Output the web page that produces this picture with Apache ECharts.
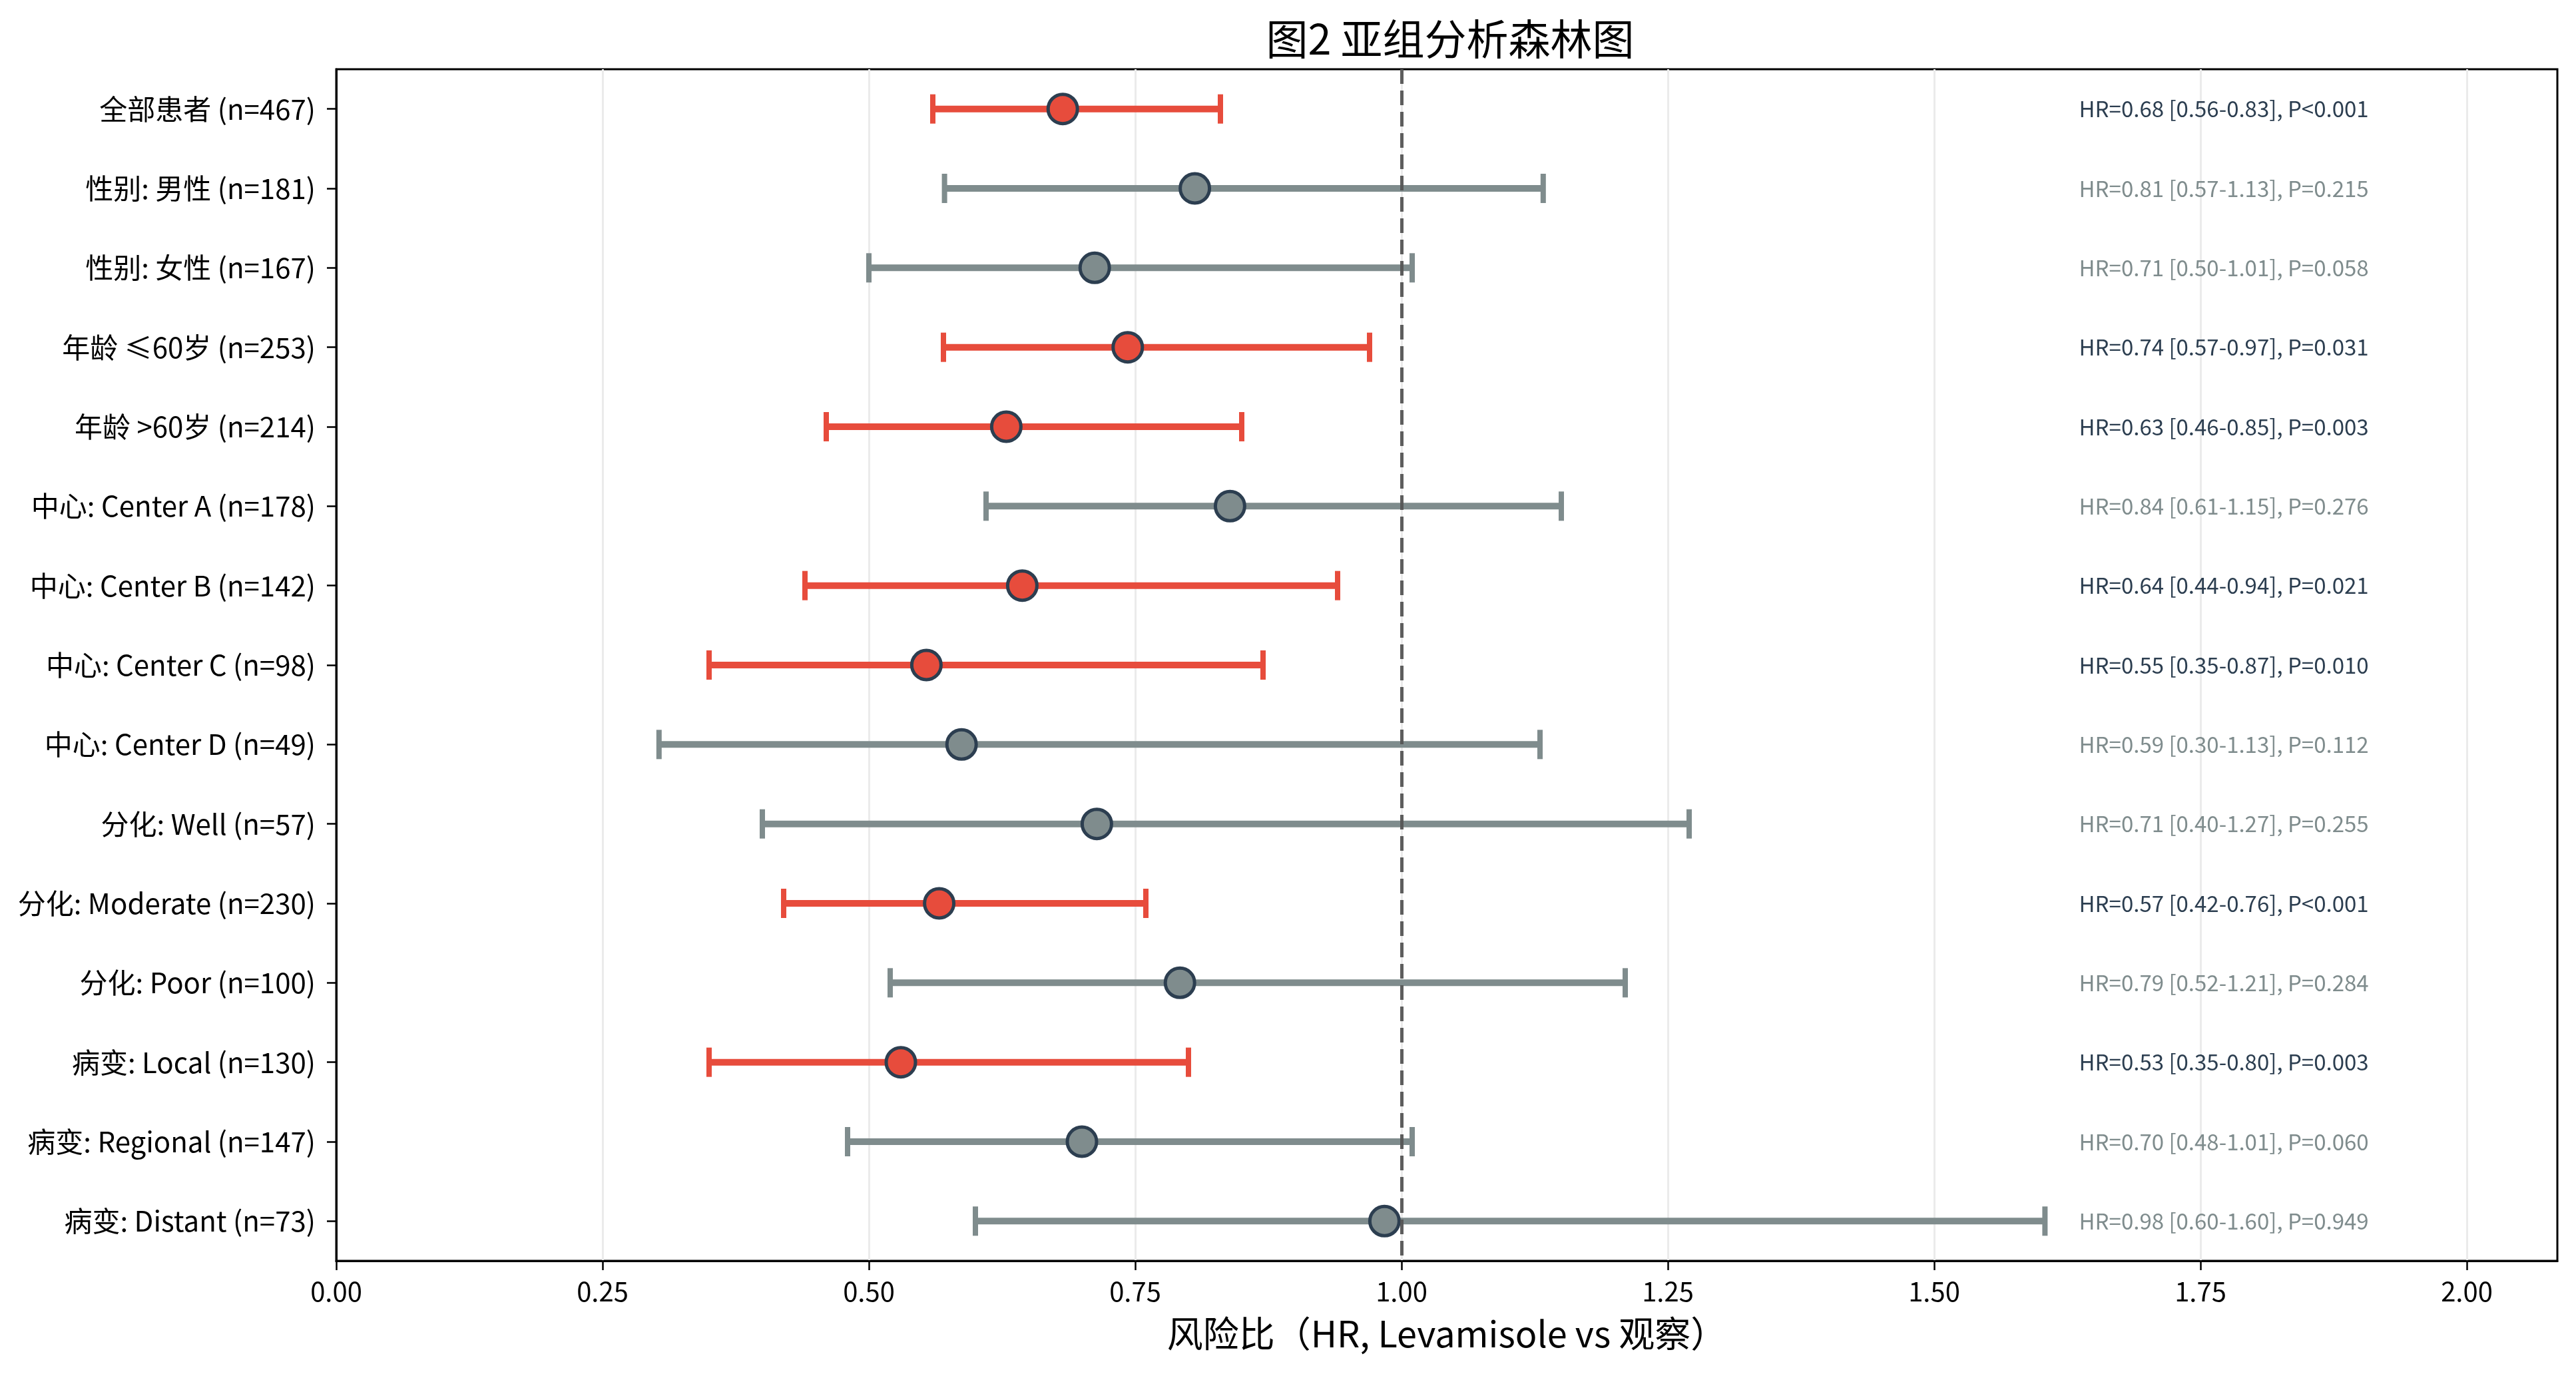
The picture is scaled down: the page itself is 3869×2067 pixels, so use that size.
<!DOCTYPE html>
<html style="height: 100%">
<head>
    <meta charset="utf-8">
</head>
<body style="height: 100%; margin: 0; background: #fff">
<div id="container" style="height: 100%"></div>
<script type="text/javascript" src="https://cdn.jsdelivr.net/npm/echarts@6/dist/echarts.min.js"></script>
<script type="text/javascript">
    var dom = document.getElementById("container");
    var myChart = echarts.init(dom);
    var option;

    // 亚组数据，从上到下
    var subgroups = [
        '全部患者 (n=467)',
        '性别: 男性 (n=181)',
        '性别: 女性 (n=167)',
        '年龄 ≤60岁 (n=253)',
        '年龄 >60岁 (n=214)',
        '中心: Center A (n=178)',
        '中心: Center B (n=142)',
        '中心: Center C (n=98)',
        '中心: Center D (n=49)',
        '分化: Well (n=57)',
        '分化: Moderate (n=230)',
        '分化: Poor (n=100)',
        '病变: Local (n=130)',
        '病变: Regional (n=147)',
        '病变: Distant (n=73)'
    ];
    var hr    = [0.682, 0.806, 0.712, 0.743, 0.629, 0.839, 0.644, 0.554, 0.587, 0.714, 0.566, 0.792, 0.530, 0.700, 0.984];
    var lower = [0.56, 0.571, 0.50, 0.57, 0.46, 0.61, 0.44, 0.35, 0.303, 0.40, 0.42, 0.52, 0.35, 0.48, 0.60];
    var upper = [0.83, 1.133, 1.01, 0.97, 0.85, 1.15, 0.94, 0.87, 1.13, 1.27, 0.76, 1.21, 0.80, 1.01, 1.604];
    var pText = ['<0.001', '=0.215', '=0.058', '=0.031', '=0.003', '=0.276', '=0.021', '=0.010',
                 '=0.112', '=0.255', '<0.001', '=0.284', '=0.003', '=0.060', '=0.949'];
    var xTicks = [0, 0.25, 0.5, 0.75, 1.0, 1.25, 1.5, 1.75, 2.0];
    var textX = 1.636;   // HR 注释所在的横坐标

    var RED = '#e74c3c';
    var GRAY = '#7f8c8d';
    var DARK = '#2c3e50';
    var FONT = 'Noto Sans CJK SC';

    function isSig(i) {
        return upper[i] < 1;
    }

    function hrLabel(i) {
        return 'HR=' + hr[i].toFixed(2) + ' [' + lower[i].toFixed(2) + '-' +
            upper[i].toFixed(2) + '], P' + pText[i];
    }

    var barData = [], pointData = [], textData = [];
    for (var i = 0; i < subgroups.length; i++) {
        barData.push([lower[i], upper[i], i]);
        pointData.push({
            value: [hr[i], i],
            itemStyle: {color: isSig(i) ? RED : GRAY}
        });
        textData.push([textX, i]);
    }

    option = {
        backgroundColor: '#fff',
        textStyle: {fontFamily: FONT},
        title: {
            text: '图2 亚组分析森林图',
            left: 2173,
            textAlign: 'center',
            top: 22,
            textStyle: {fontFamily: FONT, fontSize: 63, fontWeight: 'normal', color: '#000'}
        },
        grid: {
            left: 505, right: 28, top: 104, bottom: 173,
            show: true, borderColor: '#000', borderWidth: 3
        },
        xAxis: {
            type: 'value',
            min: 0,
            max: 2.085,
            interval: 0.25,
            name: '风险比（HR, Levamisole vs 观察）',
            nameLocation: 'middle',
            nameGap: 82,
            nameTextStyle: {fontFamily: FONT, fontSize: 54, color: '#000'},
            axisLine: {show: true, lineStyle: {color: '#000', width: 3}},
            axisTick: {show: true, length: 14, lineStyle: {color: '#000', width: 2.5}, customValues: xTicks},
            axisLabel: {
                margin: 26, fontSize: 40, color: '#000', fontFamily: FONT,
                customValues: xTicks,
                formatter: function (v) { return v.toFixed(2); }
            },
            splitLine: {show: true, lineStyle: {color: '#ebebeb', width: 3}}
        },
        yAxis: {
            type: 'category',
            data: subgroups,
            inverse: true,
            boundaryGap: true,
            axisLine: {show: true, lineStyle: {color: '#000', width: 3}},
            axisTick: {show: true, alignWithLabel: true, length: 14, lineStyle: {color: '#000', width: 2.5}},
            axisLabel: {margin: 31, fontSize: 42, color: '#000', fontFamily: FONT},
            splitLine: {show: false}
        },
        series: [
            {
                type: 'custom',
                z: 2,
                data: barData,
                encode: {x: [0, 1], y: 2},
                renderItem: function (params, api) {
                    var idx = api.value(2);
                    var p0 = api.coord([api.value(0), idx]);
                    var p1 = api.coord([api.value(1), idx]);
                    var c = isSig(params.dataIndex) ? RED : GRAY;
                    var cap = 22;
                    var style = {stroke: c, lineWidth: 10, fill: null};
                    return {
                        type: 'group',
                        children: [
                            {type: 'line', shape: {x1: p0[0], y1: p0[1], x2: p1[0], y2: p1[1]}, style: style},
                            {type: 'line', shape: {x1: p0[0], y1: p0[1] - cap, x2: p0[0], y2: p0[1] + cap},
                                style: {stroke: c, lineWidth: 8}},
                            {type: 'line', shape: {x1: p1[0], y1: p1[1] - cap, x2: p1[0], y2: p1[1] + cap},
                                style: {stroke: c, lineWidth: 8}}
                        ]
                    };
                }
            },
            {
                type: 'scatter',
                z: 3,
                data: [],
                markLine: {
                    silent: true,
                    symbol: 'none',
                    label: {show: false},
                    lineStyle: {color: '#555555', width: 5, type: [22, 10], opacity: 0.95},
                    data: [{xAxis: 1}]
                }
            },
            {
                type: 'scatter',
                z: 4,
                symbolSize: 44,
                data: pointData,
                itemStyle: {borderColor: DARK, borderWidth: 5, opacity: 1}
            },
            {
                type: 'custom',
                z: 5,
                data: textData,
                encode: {x: 0, y: 1},
                renderItem: function (params, api) {
                    var p = api.coord([api.value(0), api.value(1)]);
                    var i = params.dataIndex;
                    return {
                        type: 'text',
                        x: p[0],
                        y: p[1],
                        style: {
                            text: hrLabel(i),
                            fill: isSig(i) ? DARK : GRAY,
                            font: '33px "' + FONT + '"',
                            align: 'left',
                            verticalAlign: 'middle'
                        }
                    };
                }
            }
        ]
    };

    if (option && typeof option === "object") {
        myChart.setOption(option, true);
    }
</script>
</body>
</html>
